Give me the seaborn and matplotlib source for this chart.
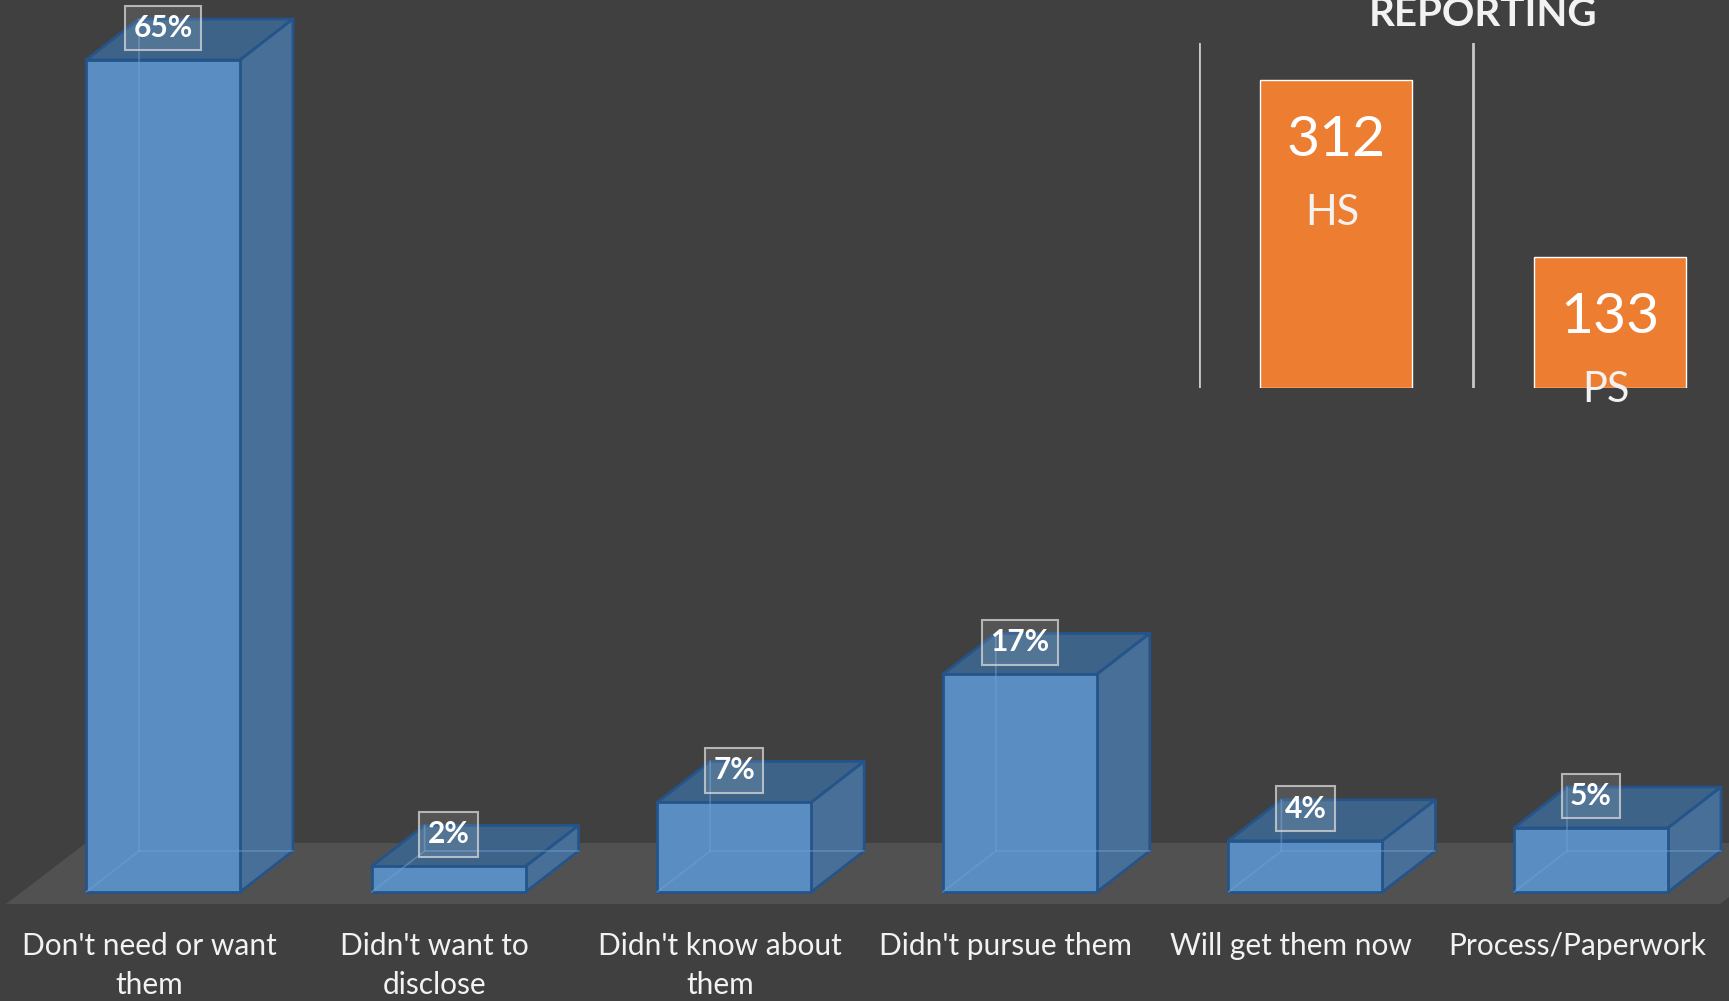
import matplotlib
matplotlib.use("Agg")
import matplotlib.pyplot as plt
import matplotlib.transforms as mtransforms
from matplotlib.patches import Polygon
import pandas as pd
import seaborn as sns

# ---- data -------------------------------------------------------------
reasons = [
    "Don't need or want\nthem",
    "Didn't want to\ndisclose",
    "Didn't know about\nthem",
    "Didn't pursue them",
    "Will get them now",
    "Process/Paperwork",
]
reason_pct = [65, 2, 7, 17, 4, 5]

groups = ["HS", "PS"]
group_counts = [312, 133]

heading = "REPORTING"

# ---- style ------------------------------------------------------------
W, H, DPI = 1729, 1001, 100
BG = "#404040"
FLOOR = "#525152"
FRONT = "#5a8ec2"
TOP = "#3d6388"
SIDE = "#476f98"
EDGE = "#24548a"
INNER = "#6fa3d6"
ORANGE = "#ed7d31"
TEXT = "#f2f2f2"
RULE = "#c8c8c8"

sns.set_theme(style="white")
plt.rcParams["font.family"] = ["Lato", "DejaVu Sans"]

fig = plt.figure(figsize=(W / DPI, H / DPI), dpi=DPI, facecolor=BG)

# main 3-D style bar chart, pixel geometry of the layout
PX_PER_CAT = 285.6
X0_PX = 163
BASE_PX = 892
PX_PER_PCT = 12.8
DEPTH_X = 53 / PX_PER_CAT
DEPTH_Y = 41 / PX_PER_PCT

ax = fig.add_axes([0, 0, 1, 1])
ax.set_facecolor(BG)

df = pd.DataFrame({"reason": reasons, "pct": reason_pct})
sns.barplot(data=df, x="reason", y="pct", color=FRONT, saturation=1,
            width=154 / PX_PER_CAT, edgecolor=EDGE, linewidth=2,
            ax=ax, zorder=4)

ax.set_xlim(-X0_PX / PX_PER_CAT, (W - X0_PX) / PX_PER_CAT)
ax.set_ylim(-(H - BASE_PX) / PX_PER_PCT, BASE_PX / PX_PER_PCT)

# floor plane
f_front = -12 / PX_PER_PCT
f_back = 49 / PX_PER_PCT
f_left = (6 - X0_PX) / PX_PER_CAT
f_slant = 80 / PX_PER_CAT
f_right = (1720 - X0_PX) / PX_PER_CAT
ax.add_patch(Polygon([(f_left, f_front), (f_left + f_slant, f_back),
                      (f_right + f_slant, f_back), (f_right, f_front)],
                     closed=True, fc=FLOOR, ec="none", zorder=1))

bars = list(ax.patches)[:len(reason_pct)]
for bar, val in zip(bars, reason_pct):
    x0, w, h = bar.get_x(), bar.get_width(), bar.get_height()
    # hidden back edges seen through the translucent front
    ax.plot([x0, x0 + DEPTH_X, x0 + DEPTH_X], [0, DEPTH_Y, h + DEPTH_Y],
            color=INNER, lw=1.2, alpha=0.5, zorder=5)
    ax.plot([x0 + DEPTH_X, x0 + w + DEPTH_X], [DEPTH_Y, DEPTH_Y],
            color=INNER, lw=1.2, alpha=0.5, zorder=5)
    top = Polygon([(x0, h), (x0 + DEPTH_X, h + DEPTH_Y),
                   (x0 + w + DEPTH_X, h + DEPTH_Y), (x0 + w, h)],
                  closed=True, fc=TOP, ec=EDGE, lw=2, joinstyle="round", zorder=3)
    side = Polygon([(x0 + w, 0), (x0 + w + DEPTH_X, DEPTH_Y),
                    (x0 + w + DEPTH_X, h + DEPTH_Y), (x0 + w, h)],
                   closed=True, fc=SIDE, ec=EDGE, lw=2, joinstyle="round", zorder=3)
    ax.add_patch(top)
    ax.add_patch(side)
    ax.annotate(f"{val}%", xy=(x0 + w / 2, h), xytext=(0, 32),
                textcoords="offset pixels", ha="center", va="center",
                fontsize=21.5, fontweight="bold", color="white", zorder=7,
                bbox=dict(boxstyle="square,pad=0.28", fc=(1, 1, 1, 0.11),
                          ec=(0.85, 0.85, 0.85, 0.75), lw=1.5))

ax.spines[:].set_visible(False)
ax.spines["bottom"].set_position(("data", 0))
ax.set_xlabel("")
ax.set_ylabel("")
ax.set_yticks([])
ax.tick_params(axis="x", length=0, pad=29, labelsize=21.5, labelcolor=TEXT)
shift = mtransforms.ScaledTranslation(-14 / DPI, 0, fig.dpi_scale_trans)
for lab in ax.get_xticklabels():
    lab.set_transform(lab.get_transform() + shift)
    lab.set_linespacing(1.45)
    lab.set_verticalalignment("top")

# inset: counts of respondents
ax2 = fig.add_axes([1199 / W, (H - 388) / H, 548 / W, 345 / H])
ax2.set_facecolor("none")
sns.barplot(x=groups, y=group_counts, color=ORANGE, saturation=1,
            width=152 / 274, ax=ax2, zorder=2)
ax2.set_xlim(-0.5, 1.5)
ax2.set_ylim(0, 345 * 312 / 308)
ax2.axis("off")
for xb in (-0.5, 0.5):
    ax2.axvline(xb, color=RULE, lw=2, zorder=1)
for bar, cnt, grp in zip(ax2.patches, group_counts, groups):
    cx, h = bar.get_x() + bar.get_width() / 2, bar.get_height()
    ax2.annotate(str(cnt), xy=(cx, h), xytext=(0, -61), textcoords="offset pixels",
                 ha="center", va="center", fontsize=41, color="white", zorder=3)
    ax2.annotate(grp, xy=(cx, h), xytext=(-4, -133), textcoords="offset pixels",
                 ha="center", va="center", fontsize=30, color=TEXT, zorder=3)

fig.text(1483 / W, 1 - 26 / H, heading, ha="center", va="baseline",
         fontsize=29, fontweight="bold", color=TEXT)

fig.savefig("out.png", dpi=DPI, facecolor=BG)
